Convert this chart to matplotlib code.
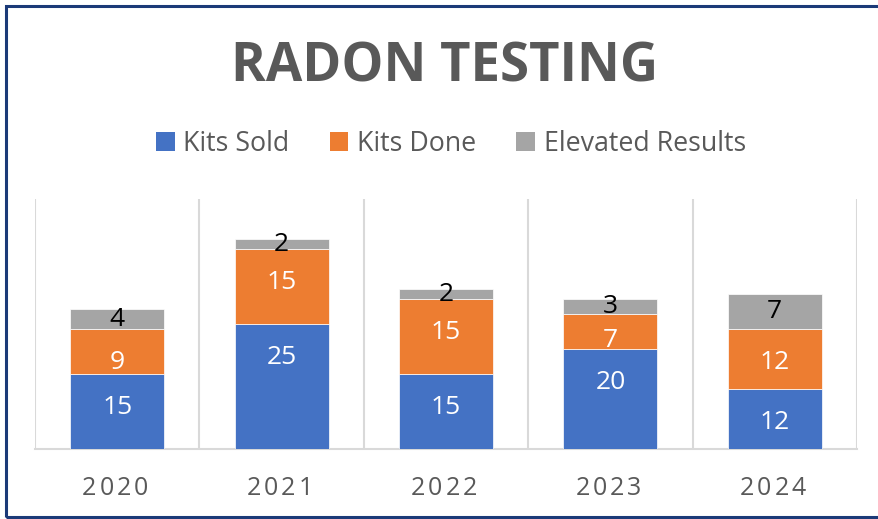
import matplotlib
matplotlib.use("Agg")
import matplotlib.pyplot as plt
from matplotlib.patches import Rectangle, Patch
import numpy as np

years = ["2020", "2021", "2022", "2023", "2024"]
kits_sold = [15, 25, 15, 20, 12]
kits_done = [9, 15, 15, 7, 12]
elevated = [4, 2, 2, 3, 7]
series_names = ["Kits Sold", "Kits Done", "Elevated Results"]
colors = ["#4472C4", "#ED7D31", "#A5A5A5"]
label_colors = ["white", "white", "black"]
label_modes = ["inside_end", "inside_end", "center"]
title = "RADON TESTING"

W, H, DPI = 879, 519, 100
FONT = "Open Sans"
TXT = "#595959"
LABEL_SIZE = 19

fig = plt.figure(figsize=(W / DPI, H / DPI), dpi=DPI)
fig.patch.set_facecolor("white")

ax = fig.add_axes([35 / W, 1 - 449 / H, (857 - 35) / W, (449 - 199) / H])
ax.set_xlim(-0.5, len(years) - 0.5)
ax.set_ylim(0, 50)
x = np.arange(len(years))
width = 1 / 1.75

# pixels per data unit (vertical)
ppu = ax.transData.transform((0, 1))[1] - ax.transData.transform((0, 0))[1]
half_digit_pt = 0.714 * LABEL_SIZE / 2  # half digit height in points

bottoms = np.zeros(len(years))
for vals, col, lc, mode in zip([kits_sold, kits_done, elevated], colors,
                               label_colors, label_modes):
    vals = np.array(vals, dtype=float)
    ax.bar(x, vals, width=width, bottom=bottoms, color=col,
           edgecolor="white", linewidth=0.5, zorder=3)
    for xi, b, v in zip(x, bottoms, vals):
        top = b + v
        if mode == "inside_end":
            yc = max(top - 31 / ppu, b + 11 / ppu)
        else:
            yc = b + v / 2 + 2.5 / ppu
        ax.annotate(f"{int(v)}", xy=(xi, yc), xytext=(0, -half_digit_pt),
                    textcoords="offset points", ha="center", va="baseline",
                    color=lc, fontsize=LABEL_SIZE, family=FONT, zorder=4,
                    annotation_clip=False)
    bottoms += vals

ax.set_yticks([])
ax.set_xticks(np.arange(-0.5, len(years), 1.0), minor=True)
ax.set_xticks([])
ax.grid(which="minor", axis="x", color="#D9D9D9", linewidth=1.5, zorder=0)
ax.tick_params(which="both", length=0)
for s in ["top", "right", "left"]:
    ax.spines[s].set_visible(False)
ax.spines["bottom"].set_color("#D9D9D9")
ax.spines["bottom"].set_linewidth(1.5)
ax.set_facecolor("none")

# letter-spaced tick labels
renderer = fig.canvas.get_renderer()
def spaced_text(xc_px, y_frac, s, spacing_px, **kw):
    widths = []
    for ch in s:
        t = fig.text(0, 0, ch, **kw)
        widths.append(t.get_window_extent(renderer).width)
        t.remove()
    total = sum(widths) + spacing_px * (len(s) - 1)
    cur = xc_px - total / 2
    for ch, w in zip(s, widths):
        fig.text(cur / W, y_frac, ch, ha="left", va="baseline", **kw)
        cur += w + spacing_px

for xi, yr in zip(x, years):
    xc = ax.transData.transform((xi, 0))[0]
    spaced_text(xc - 2, 1 - 495 / H, yr, 3, fontsize=18, family=FONT, color=TXT)

# title
fig.text(445 / W, 1 - 81 / H, title, ha="center", va="baseline",
         fontsize=38, fontweight="bold", family=FONT, color=TXT)

# legend
handles = [Patch(facecolor=c, edgecolor="none") for c in colors]
leg = fig.legend(handles, series_names, loc="center", ncol=3,
                 bbox_to_anchor=(451 / W, 1 - 144 / H), frameon=False,
                 prop={"family": FONT, "size": 19.3},
                 handlelength=0.7, handleheight=0.7, handletextpad=0.32,
                 columnspacing=1.5, borderpad=0, borderaxespad=0)
for t in leg.get_texts():
    t.set_color(TXT)

# outer border
fig.add_artist(Rectangle((6 / W, 2 / H), (W + 10) / W, (H - 8) / H,
                         transform=fig.transFigure, fill=False,
                         edgecolor="#1B3A78", linewidth=2.2, clip_on=False))

fig.savefig("out.png", dpi=DPI)
